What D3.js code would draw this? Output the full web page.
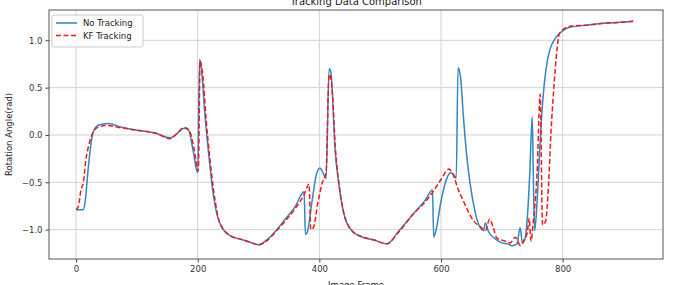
<!DOCTYPE html>
<html>
<head>
<meta charset="utf-8">
<script src="https://cdn.jsdelivr.net/npm/d3@7"></script>
<style>
  html, body { margin: 0; padding: 0; background: #fff; overflow: hidden; }
  svg { display: block; }
</style>
</head>
<body>
<div id="chart"></div>
<script>
// frames + angles
const noTrackFrames = [0, 12, 15, 20, 26, 32, 40, 55, 70, 100, 130, 155, 165, 178, 185, 192, 200, 203, 206, 212, 218, 224, 232, 242, 255, 270, 285, 300, 315, 330, 345, 360, 375, 377, 380, 388, 395, 401, 406, 411, 416, 419, 426, 432, 440, 446, 455, 467, 490, 511, 530, 555, 575, 586, 588, 592, 600, 610, 616, 622, 625, 628, 632, 637, 642, 648, 655, 660, 670, 673, 678, 690, 700, 710, 717, 725, 730, 734, 738, 742, 746, 750, 752, 754, 758, 762, 766, 770, 775, 780, 786, 793, 800, 813, 840, 868, 895, 916];
const noTrackValues = [-0.79, -0.79, -0.70, -0.35, -0.03, 0.08, 0.11, 0.12, 0.09, 0.05, 0.02, -0.03, 0.01, 0.07, 0.05, -0.15, -0.40, 0.80, 0.70, 0.20, -0.20, -0.55, -0.85, -1.00, -1.07, -1.10, -1.13, -1.16, -1.10, -1.00, -0.88, -0.76, -0.60, -1.05, -1.03, -0.70, -0.42, -0.35, -0.40, -0.46, 0.70, 0.66, -0.17, -0.52, -0.82, -0.94, -1.02, -1.07, -1.11, -1.15, -1.02, -0.83, -0.68, -0.58, -1.08, -1.00, -0.70, -0.45, -0.40, -0.43, -0.46, 0.71, 0.62, 0.18, -0.20, -0.52, -0.78, -0.91, -1.01, -0.93, -1.02, -1.10, -1.14, -1.15, -1.17, -1.15, -0.98, -1.14, -1.10, -0.87, -0.40, 0.19, -0.50, -1.01, -0.70, -0.20, 0.25, 0.55, 0.79, 0.92, 1.00, 1.06, 1.10, 1.14, 1.16, 1.18, 1.19, 1.20];

const kfFrames = [0, 4, 8, 12, 16, 22, 28, 36, 50, 70, 100, 130, 155, 165, 178, 186, 194, 201, 204, 208, 214, 220, 226, 234, 244, 256, 270, 285, 300, 315, 330, 345, 360, 375, 383, 386, 390, 398, 405, 411, 416, 420, 427, 433, 441, 447, 456, 468, 490, 511, 530, 555, 575, 588, 600, 613, 620, 628, 637, 654, 665, 673, 680, 686, 692, 705, 714, 722, 731, 737, 742, 745, 748, 752, 758, 763, 767, 772, 777, 781, 785, 788, 791, 794, 802, 815, 840, 868, 895, 916];
const kfValues = [-0.79, -0.75, -0.58, -0.50, -0.27, -0.08, 0.03, 0.08, 0.10, 0.08, 0.05, 0.02, -0.04, 0.01, 0.08, 0.05, -0.15, -0.38, 0.78, 0.65, 0.15, -0.25, -0.58, -0.88, -1.01, -1.07, -1.10, -1.13, -1.16, -1.11, -1.01, -0.90, -0.78, -0.63, -0.52, -1.00, -0.98, -0.70, -0.50, -0.40, 0.64, 0.55, -0.20, -0.55, -0.85, -0.95, -1.03, -1.07, -1.11, -1.15, -1.03, -0.83, -0.70, -0.59, -0.47, -0.36, -0.42, -0.57, -0.70, -0.91, -0.97, -1.01, -0.89, -0.98, -1.09, -1.12, -1.14, -1.08, -1.17, -1.10, -1.03, -0.88, -1.12, -0.90, -0.40, 0.43, -0.95, -0.91, -0.50, 0.05, 0.45, 0.71, 0.92, 1.06, 1.12, 1.15, 1.16, 1.18, 1.19, 1.20];

const xTicks = [0, 200, 400, 600, 800];
const yTicks = [-1.0, -0.5, 0.0, 0.5, 1.0];

const series = [
  { name: 'No Tracking', frames: noTrackFrames, values: noTrackValues, color: '#3386c0', dash: null },
  { name: 'KF Tracking', frames: kfFrames, values: kfValues, color: '#f01818', dash: '5,2.5' },
];

const W = 675, H = 285;
const pad = { top: 10, right: 12, bottom: 26, left: 49 };
const iW = W - pad.left - pad.right;
const iH = H - pad.top - pad.bottom;
const FONT = 'DejaVu Sans, sans-serif';

const svg = d3.select('#chart').append('svg').attr('width', W).attr('height', H);
const g = svg.append('g').attr('transform', `translate(${pad.left},${pad.top})`);

const x = d3.scaleLinear().domain([-44.5, 965]).range([0, iW]);
const y = d3.scaleLinear().domain([-1.31, 1.32]).range([iH, 0]);

// grid
g.append('g').selectAll('line.gx').data(xTicks).enter().append('line')
  .attr('x1', d => x(d)).attr('x2', d => x(d)).attr('y1', 0).attr('y2', iH)
  .attr('stroke', '#d3d3d3').attr('stroke-width', 1);
g.append('g').selectAll('line.gy').data(yTicks).enter().append('line')
  .attr('y1', d => y(d)).attr('y2', d => y(d)).attr('x1', 0).attr('x2', iW)
  .attr('stroke', '#d3d3d3').attr('stroke-width', 1);

const fmtY = d => d3.format('.1f')(d).replace('-', '\u2212');

const xAxis = g.append('g').attr('transform', `translate(0,${iH})`)
  .call(d3.axisBottom(x).tickValues(xTicks).tickSize(3.5).tickPadding(3));
const yAxis = g.append('g')
  .call(d3.axisLeft(y).tickValues(yTicks).tickSize(3.5).tickPadding(3).tickFormat(fmtY));
[xAxis, yAxis].forEach(a => {
  a.select('.domain').remove();
  a.selectAll('line').attr('stroke', '#444');
  a.selectAll('text').attr('font-family', FONT).attr('font-size', 8.5).attr('fill', '#333');
});

// lines
const line = d3.line().x(d => x(d[0])).y(d => y(d[1])).curve(d3.curveMonotoneX);
series.forEach(s => {
  const pts = s.frames.map((f, i) => [f, s.values[i]]);
  g.append('path').datum(pts)
    .attr('d', line)
    .attr('fill', 'none')
    .attr('stroke', s.color)
    .attr('stroke-width', 1.5)
    .attr('stroke-linejoin', 'round')
    .attr('stroke-dasharray', s.dash);
});

// frame
g.append('rect').attr('x', 0).attr('y', 0).attr('width', iW).attr('height', iH)
  .attr('fill', 'none').attr('stroke', '#555').attr('stroke-width', 1);

// legend
const lg = g.append('g').attr('transform', 'translate(3,5)');
lg.append('rect').attr('width', 91).attr('height', 32).attr('rx', 2)
  .attr('fill', '#fff').attr('fill-opacity', 0.85).attr('stroke', '#ccc');
series.forEach((s, i) => {
  const ly = 8 + i * 12.5;
  lg.append('line').attr('x1', 4).attr('x2', 25).attr('y1', ly).attr('y2', ly)
    .attr('stroke', s.color).attr('stroke-width', 1.5).attr('stroke-dasharray', s.dash);
  lg.append('text').attr('x', 31).attr('y', ly + 3).text(s.name)
    .attr('font-family', FONT).attr('font-size', 8.5).attr('fill', '#222');
});

// titles (cut by the edges in the reference too)
svg.append('text').attr('x', pad.left + iW / 2).attr('y', 5)
  .attr('text-anchor', 'middle').attr('font-family', FONT).attr('font-size', 10)
  .attr('fill', '#222').text('Tracking Data Comparison');
svg.append('text').attr('x', pad.left + iW / 2).attr('y', 288)
  .attr('text-anchor', 'middle').attr('font-family', FONT).attr('font-size', 8.5)
  .attr('fill', '#222').text('Image Frame');
svg.append('text')
  .attr('transform', `translate(12,${pad.top + iH / 2}) rotate(-90)`)
  .attr('text-anchor', 'middle').attr('font-family', FONT).attr('font-size', 8.5)
  .attr('fill', '#222').text('Rotation Angle(rad)');
</script>
</body>
</html>
